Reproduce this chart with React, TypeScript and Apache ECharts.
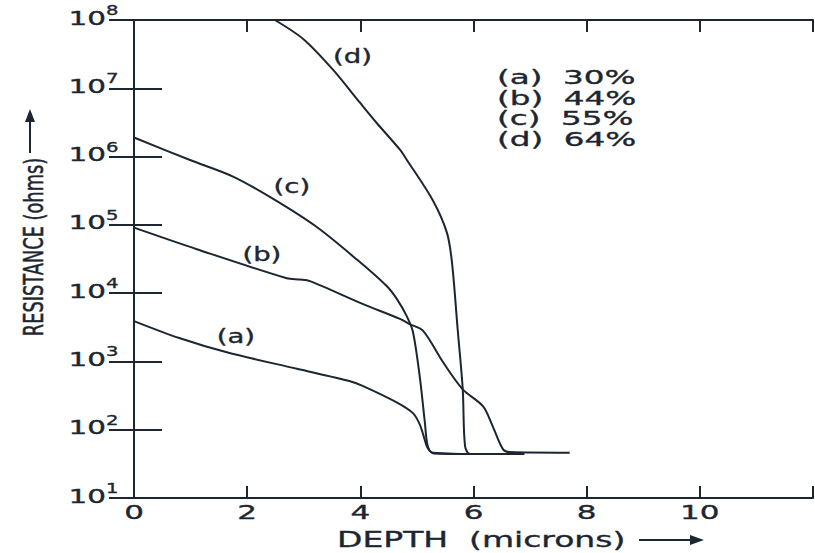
import React, { useEffect, useRef } from "react";
import * as echarts from "echarts";

const xTicks = [0, 2, 4, 6, 8, 10];
const yExponents = [1, 2, 3, 4, 5, 6, 7, 8];

const seriesNames = ["(a)", "(b)", "(c)", "(d)"];
const legendLines = ["(a)  30%", "(b)  44%", "(c)  55%", "(d)  64%"];
const xTitle = "DEPTH  (microns)";
const yTitle = "RESISTANCE (ohms)";

const depthA = [0, 0.8, 1.64, 2.88, 3.82, 4.05, 4.65, 4.93, 5.05, 5.12, 5.19, 5.3, 6.5];
const resA = [3900, 2200, 1360, 780, 513, 436, 250, 175, 120, 80, 54, 45, 44];

const depthB = [0, 1.11, 2.7, 2.93, 3.11, 4.05, 4.7, 4.88, 5.11, 5.46, 5.81, 6.17, 6.34, 6.52, 6.64, 7.7];
const resB = [91000, 44000, 16500, 15800, 15000, 6900, 4200, 3500, 2800, 980, 390, 220, 112, 52, 47, 46];

const depthC = [0, 0.99, 1.75, 2.46, 3.23, 3.94, 4.47, 4.65, 4.82, 4.93, 5.05, 5.14, 5.19, 5.28, 6.2];
const resC = [1900000, 890000, 510000, 240000, 93000, 31000, 12600, 8100, 4600, 2700, 600, 129, 58, 46, 44];

const depthD = [2.49, 3.0, 3.52, 3.99, 4.29, 4.7, 4.82, 5.28, 5.53, 5.62, 5.72, 5.81, 5.85, 5.94, 6.9];
const resD = [1e8, 5.2e7, 1.86e7, 6.2e6, 3.1e6, 1.26e6, 9e5, 2.3e5, 7.7e4, 2.8e4, 2960, 390, 58, 44, 44];

// curve tag label anchors (depth, resistance)
const tagDepth = [1.8, 2.26, 2.79, 3.86];
const tagRes = [2300, 37000, 360000, 2.9e7];

const INK = "#1c2630";
const FONT = "DejaVu Sans";
const SX = 1.55; // horizontal stretch of the scanned lettering

export default function App() {
  const ref = useRef<HTMLDivElement>(null);
  useEffect(() => {
    if (!ref.current) return;
    const chart = echarts.init(ref.current, undefined, { renderer: "svg" });
    const zip = (xs: number[], ys: number[]) => xs.map((x, i) => [x, ys[i]]);
    const curves = [
      zip(depthA, resA),
      zip(depthB, resB),
      zip(depthC, resC),
      zip(depthD, resD),
    ];
    const lineSeries = curves.map((data, i) => ({
      name: seriesNames[i],
      type: "line",
      data,
      showSymbol: false,
      smooth: 0.3,
      lineStyle: { color: INK, width: 2, join: "round" },
      z: 3,
    }));
    const axisLine = { show: true, lineStyle: { color: INK, width: 2 } };
    const tick = (len: number) => ({
      show: true,
      inside: true,
      length: len,
      lineStyle: { color: INK, width: 2 },
    });
    chart.setOption({
      animation: false,
      backgroundColor: "#ffffff",
      grid: { left: 134, right: 2, top: 20, bottom: 55 },
      xAxis: [
        {
          type: "value", min: 0, max: 12, interval: 2, position: "bottom",
          axisLine, splitLine: { show: false }, axisTick: tick(12),
          axisLabel: { show: false },
        },
        {
          type: "value", min: 0, max: 12, interval: 2, position: "top",
          axisLine, splitLine: { show: false }, axisTick: tick(12),
          axisLabel: { show: false },
        },
      ],
      yAxis: [
        {
          type: "log", logBase: 10, min: 10, max: 1e8, position: "left",
          axisLine, splitLine: { show: false }, axisTick: tick(28),
          axisLabel: { show: false },
        },
        {
          type: "log", logBase: 10, min: 10, max: 1e8, position: "right",
          axisLine, splitLine: { show: false }, axisTick: tick(25),
          axisLabel: { show: false },
        },
      ],
      series: lineSeries,
    });

    const toPx = (x: number, y: number) =>
      chart.convertToPixel({ gridIndex: 0 }, [x, y]) as number[];
    const [left, bottom] = toPx(0, 10);

    const txt = (
      text: string, x: number, y: number, size: number,
      align: string, extra: any = {}
    ) => ({
      type: "text",
      x, y,
      scaleX: SX,
      silent: true,
      ...extra,
      style: {
        text,
        fill: INK,
        stroke: INK,
        lineWidth: 0.35,
        font: `${size}px "${FONT}"`,
        align,
        verticalAlign: "middle",
        ...(extra.style || {}),
      },
    });

    const graphics: any[] = [];
    xTicks.forEach((v) => {
      const [px] = toPx(v, 10);
      graphics.push(txt(String(v), px, bottom + 14, 20, "center"));
    });
    yExponents.forEach((e) => {
      const [, py] = toPx(0, Math.pow(10, e));
      graphics.push(txt("10", left - 28, py - 2, 19, "right"));
      graphics.push(txt(String(e), left - 28, py - 10, 14, "left", { scaleX: 1.4 }));
    });
    seriesNames.forEach((n, i) => {
      const [px, py] = toPx(tagDepth[i], tagRes[i]);
      graphics.push(txt(n, px, py, 19, "center", { scaleX: 1.45 }));
    });
    legendLines.forEach((l, i) => {
      graphics.push(txt(l, 497, 77 + i * 20.7, 20, "left", { scaleX: 1.63 }));
    });
    // x axis title with arrow
    graphics.push(txt(xTitle, 337, 540, 22, "left", { scaleX: 1.5 }));
    graphics.push({
      type: "line",
      shape: { x1: 639, y1: 540, x2: 694, y2: 540 },
      style: { stroke: INK, lineWidth: 2 },
    });
    graphics.push({
      type: "polygon",
      shape: { points: [[704, 540], [690, 535], [690, 545]] },
      style: { fill: INK },
    });
    // y axis title with arrow
    graphics.push({
      type: "text",
      x: 34,
      y: 247,
      rotation: Math.PI / 2,
      scaleY: 1.45,
      silent: true,
      style: {
        text: yTitle,
        fill: INK,
        stroke: INK,
        lineWidth: 0.35,
        font: `17.8px "${FONT}"`,
        align: "center",
        verticalAlign: "middle",
      },
    });
    graphics.push({
      type: "line",
      shape: { x1: 30, y1: 153, x2: 30, y2: 120 },
      style: { stroke: INK, lineWidth: 2 },
    });
    graphics.push({
      type: "polygon",
      shape: { points: [[30, 109], [25, 122], [35, 122]] },
      style: { fill: INK },
    });

    chart.setOption({ graphic: graphics });
    return () => chart.dispose();
  }, []);
  return (
    <div
      ref={ref}
      style={{ position: "fixed", left: 0, top: 0, width: 815, height: 553, background: "#fff" }}
    />
  );
}
